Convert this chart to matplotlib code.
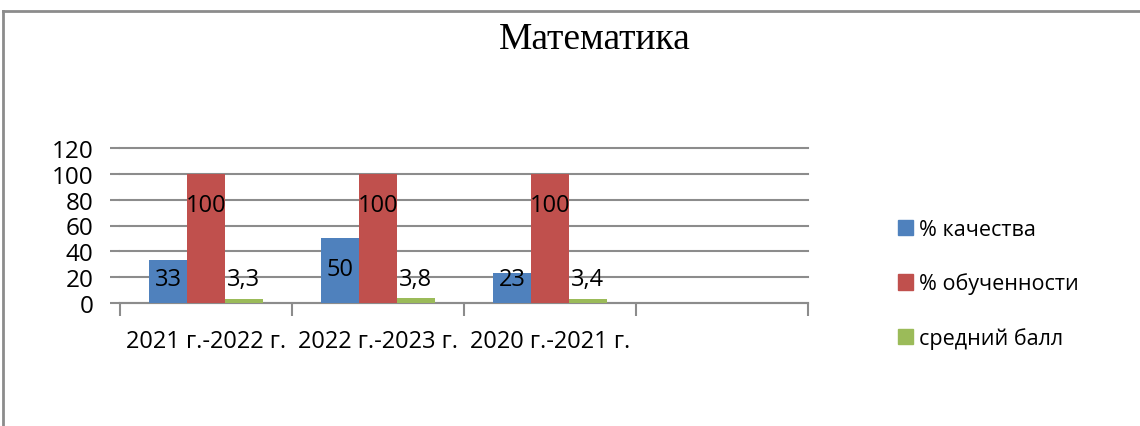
import numpy as np
import matplotlib.pyplot as plt
from matplotlib.lines import Line2D
from matplotlib.patches import Patch

categories = ['2021 г.-2022 г.', '2022 г.-2023 г.', '2020 г.-2021 г.', '']
series_names = ['% качества', '% обученности', 'средний балл']
quality = [33, 50, 23, np.nan]
learning = [100, 100, 100, np.nan]
avg_score = [3.3, 3.8, 3.4, np.nan]
label_text = [['33', '50', '23'], ['100', '100', '100'], ['3,3', '3,8', '3,4']]
# where Excel put each label (data units)
label_y = [[18.6, 26, 18.6], [76, 76, 76], [18.6, 18.6, 18.6]]
colors = ['#4F81BD', '#C0504D', '#9BBB59']

plt.rcParams['font.family'] = ['Open Sans', 'DejaVu Sans']
fs = 17

fig = plt.figure(figsize=(11.4, 4.27), dpi=100)
ax = fig.add_axes([120 / 1140, 1 - 304 / 427, 688 / 1140, 155 / 427])

x = np.arange(len(categories))
w = 0.22
for i, vals in enumerate([quality, learning, avg_score]):
    xs = x + (i - 1) * w
    ax.bar(xs, vals, w, color=colors[i], zorder=3)
    for j, t in enumerate(label_text[i]):
        ax.text(xs[j], label_y[i][j], t, ha='center', va='center',
                fontsize=fs, color='black', zorder=4)

ax.set_xlim(-0.5, len(categories) - 0.5)
ax.set_ylim(0, 120)
ax.set_yticks(np.arange(0, 121, 20))
ax.yaxis.grid(True, color='#8c8c8c', linewidth=1.5, zorder=0, clip_on=False)
ax.set_xticks(x)
ax.set_xticklabels(categories, fontsize=fs)
ax.set_xticks(np.arange(-0.5, len(categories), 1), minor=True)
ax.tick_params(axis='x', which='major', length=0, pad=19)
ax.tick_params(axis='x', which='minor', length=9, width=1.5, color='#8c8c8c')
ax.tick_params(axis='y', length=7, width=1.5, color='#8c8c8c', labelsize=17.5, pad=12)
for s in ['top', 'right', 'left']:
    ax.spines[s].set_visible(False)
ax.spines['bottom'].set_color('#8c8c8c')
ax.spines['bottom'].set_linewidth(1.5)

handles = [Patch(color=c) for c in colors]
fig.legend(handles, series_names, loc='center left',
           bbox_to_anchor=(887 / 1140, 1 - 285 / 427), frameon=False,
           fontsize=15.5, handlelength=0.7, handleheight=0.7,
           handletextpad=0.3, labelspacing=1.5, borderpad=0)

fig.text(595 / 1140, 1 - 40 / 427, 'Математика', ha='center', va='center',
         fontsize=27, family='Liberation Serif')

# outer chart frame
fig.add_artist(Line2D([3 / 1140, 1], [1 - 12 / 427] * 2, color='#8c8c8c', lw=2))
fig.add_artist(Line2D([3 / 1140] * 2, [0, 1 - 12 / 427], color='#8c8c8c', lw=2))

fig.savefig('out.png', dpi=100)
